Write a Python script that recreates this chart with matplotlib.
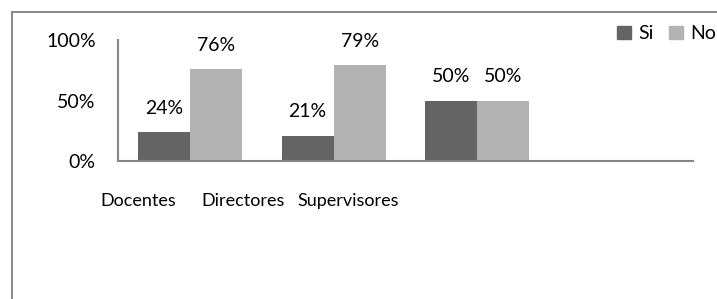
import numpy as np
import matplotlib.pyplot as plt
from matplotlib.patches import Patch, Rectangle

# datos
categorias = ['Docentes', 'Directores', 'Supervisores', '']
si = [24, 21, 50]
no = [76, 79, 50]
series = ['Si', 'No']
yticks = [0, 50, 100]

plt.rcParams['font.family'] = ['Lato', 'DejaVu Sans']

color_si = '#646464'
color_no = '#b2b2b2'
gris_eje = '#868686'

fig = plt.figure(figsize=(7.17, 2.99), dpi=100)
ax = fig.add_axes([118 / 717, 1 - 161 / 299, (693 - 118) / 717, (161 - 40) / 299])

ancho = 0.362
x = np.arange(len(si))
b1 = ax.bar(x - ancho / 2, si, width=ancho, color=color_si)
b2 = ax.bar(x + ancho / 2, no, width=ancho, color=color_no)

for barras, valores in [(b1, si), (b2, no)]:
    for b, v in zip(barras, valores):
        ax.annotate(f'{v}%', (b.get_x() + b.get_width() / 2, v),
                    xytext=(0, 17), textcoords='offset points',
                    ha='center', va='center', fontsize=14)

ax.set_xlim(-0.5, len(categorias) - 0.5)
ax.set_ylim(0, 100)
ax.set_yticks(yticks)
ax.set_yticklabels([f'{t}%' for t in yticks], fontsize=14)

# las etiquetas del eje X en el original quedan corridas a la izquierda
pos_etiquetas = [-0.361, 0.370, 1.100]
ax.set_xticks(pos_etiquetas)
ax.set_xticklabels(categorias[:3], fontsize=13)
ax.tick_params(axis='both', length=0)
ax.tick_params(axis='y', pad=16)
ax.tick_params(axis='x', pad=23)

for s in ['top', 'right']:
    ax.spines[s].set_visible(False)
for s in ['left', 'bottom']:
    ax.spines[s].set_color(gris_eje)
    ax.spines[s].set_linewidth(1.5)

handles = [Patch(color=color_si), Patch(color=color_no)]
fig.legend(handles, series, loc='upper left', bbox_to_anchor=(617 / 717, 1 - 25 / 299),
           ncol=2, frameon=False, fontsize=14, borderpad=0, borderaxespad=0,
           handlelength=0.72, handleheight=0.65, handletextpad=0.4, columnspacing=0.75)

# marco del gráfico
fig.patches.append(Rectangle((12 / 717, -0.2), 1.2, 1.2 - 12 / 299, transform=fig.transFigure,
                             fill=False, edgecolor='#8c8c8c', linewidth=1.5))

fig.savefig('out.png', dpi=100)
